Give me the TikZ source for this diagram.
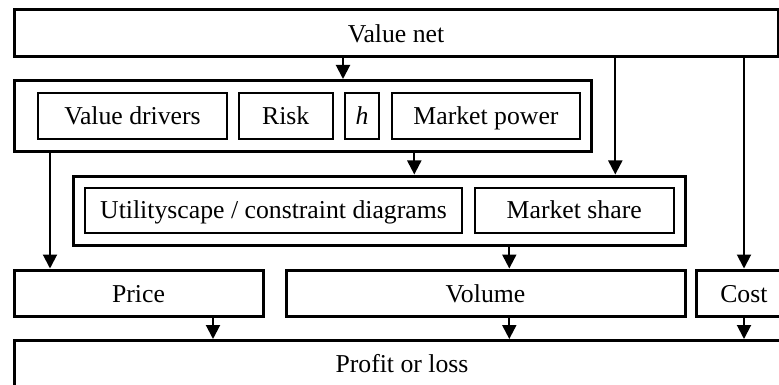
\documentclass[tikz,border=0pt]{standalone}
\usepackage{fontspec}
\setmainfont{Liberation Serif}
\usetikzlibrary{arrows.meta,fit}
\begin{document}
\begin{tikzpicture}[x=0.75pt,y=-0.75pt,
  font=\fontsize{19.3}{23}\selectfont,
  thickbox/.style={draw,line width=2.25pt,inner sep=0pt},
  thinbox/.style={draw,line width=1.5pt,inner sep=0pt},
  txt/.style={inner sep=0pt,anchor=base},
  arr/.style={line width=1.5pt,-{Triangle[width=10.5pt,length=10.5pt]}}]
\useasboundingbox (0,0) rectangle (779,385);
% boxes
\node[thickbox,fit={(14,10)(778,56.7)}] (valuenet) {};
\node[thickbox,fit={(14,80.5)(591,151.7)}] (g1) {};
\node[thinbox,fit={(38,93)(227,139)}] (vd) {};
\node[thinbox,fit={(238.5,93)(333,139)}] (risk) {};
\node[thinbox,fit={(345,93)(379,139)}] (h) {};
\node[thinbox,fit={(392,93)(580,139)}] (mp) {};
\node[thickbox,fit={(73.5,176)(685,245.5)}] (g2) {};
\node[thinbox,fit={(85,188)(462,233)}] (us) {};
\node[thinbox,fit={(474.5,188)(674,233)}] (ms) {};
\node[thickbox,fit={(14,270)(263,316.7)}] (price) {};
\node[thickbox,fit={(286,270)(685,316.7)}] (volume) {};
\node[thickbox,fit={(696.7,270)(791,316.7)}] (cost) {};
\node[thickbox,fit={(14,340.5)(791,410)}] (profit) {};
% labels
\node[txt] (tvaluenet) at ([yshift=-7pt]valuenet.center) {Value net};
\node[txt] (tvd) at ([yshift=-6.75pt]vd.center) {Value drivers};
\node[txt] (trisk) at ([yshift=-6.75pt]risk.center) {Risk};
\node[txt] (th) at ([yshift=-6.75pt]h.center) {\itshape h};
\node[txt] (tmp) at ([yshift=-6.75pt]mp.center) {Market power};
\node[txt] (tus) at ([yshift=-6pt]us.center) {Utilityscape / constraint diagrams};
\node[txt] (tms) at ([yshift=-6pt]ms.center) {Market share};
\node[txt] (tprice) at ([yshift=-7.2pt]price.center) {Price};
\node[txt] (tvolume) at ([yshift=-7.2pt]volume.center) {Volume};
\node[txt] (tcost) at ([yshift=-7.2pt]cost.center) {Cost};
\node[txt] (tprofit) at (402,372) {Profit or loss};
% x positions
\coordinate (xa) at (343,0);
\coordinate (xb) at (414.3,0);
\coordinate (xc) at (615.3,0);
\coordinate (xd) at (744,0);
\coordinate (xe) at (50,0);
\coordinate (xf) at (213,0);
\coordinate (xg) at (509.3,0);
% connectors
\draw[arr] (valuenet.south -| xa) -- (g1.north -| xa);
\draw[arr] (g1.south -| xb) -- (g2.north -| xb);
\draw[arr] (valuenet.south -| xc) -- (g2.north -| xc);
\draw[arr] (valuenet.south -| xd) -- (cost.north -| xd);
\draw[arr] (g1.south -| xe) -- (price.north -| xe);
\draw[arr] (g2.south -| xg) -- (volume.north -| xg);
\draw[arr] (price.south -| xf) -- (profit.north -| xf);
\draw[arr] (volume.south -| xg) -- (profit.north -| xg);
\draw[arr] (cost.south -| xd) -- (profit.north -| xd);
\end{tikzpicture}
\end{document}
